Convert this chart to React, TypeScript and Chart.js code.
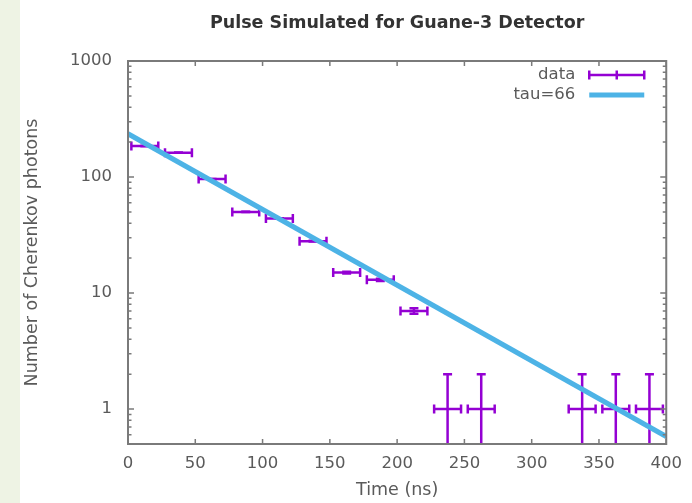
import React, { useEffect, useRef } from 'react';
import { Chart, registerables } from 'chart.js';

Chart.register(...registerables);

// ---- data ----
const timeNs = [12.5, 37.5, 62.5, 87.5, 112.5, 137.5, 162.5, 187.5, 212.5, 237.5, 262.5, 337.5, 362.5, 387.5];
const photons = [185, 162, 96, 50, 44, 28, 15, 13, 7, 1, 1, 1, 1, 1];
const timeErr = [10, 10, 10, 10, 10, 10, 10, 10, 10, 10, 10, 10, 10, 10];
const photonErr = [0.07, 0.08, 0.1, 0.14, 0.15, 0.19, 0.26, 0.28, 0.38, 1, 1, 1, 1, 1];

const fitTimes = [0, 400];
const fitValues = [236, 0.58];

const xTickValues = [0, 50, 100, 150, 200, 250, 300, 350, 400];
const yTickValues = [1, 10, 100, 1000];

const titleText = 'Pulse Simulated for Guane-3 Detector';
const xTitle = 'Time (ns)';
const yTitle = 'Number of Cherenkov photons';
const dataLabel = 'data';
const fitLabel = 'tau=66';

const PURPLE = '#9400d3';
const BLUE = '#4db3e6';
const FRAME = '#7a7a7a';
const TEXT = '#5a5a5a';
const FONT = '"DejaVu Sans", Verdana, sans-serif';

export default function App() {
  const ref = useRef<HTMLCanvasElement>(null);

  useEffect(() => {
    if (!ref.current) return;

    const errorBars = {
      id: 'errorBars',
      beforeDatasetsDraw(chart: any) {
        const { ctx, chartArea, scales } = chart;
        const x = scales.x, y = scales.y;
        ctx.save();
        ctx.beginPath();
        ctx.rect(chartArea.left, chartArea.top, chartArea.right - chartArea.left, chartArea.bottom - chartArea.top);
        ctx.clip();
        ctx.strokeStyle = PURPLE;
        ctx.lineWidth = 2.5;
        ctx.lineCap = 'butt';
        const cap = 4.5;
        const seg = (a: number, b: number, c: number, d: number) => {
          ctx.beginPath();
          ctx.moveTo(a, b);
          ctx.lineTo(c, d);
          ctx.stroke();
        };
        timeNs.forEach((t, i) => {
          const v = photons[i];
          const px = x.getPixelForValue(t);
          const py = y.getPixelForValue(v);
          const x0 = x.getPixelForValue(t - timeErr[i]);
          const x1 = x.getPixelForValue(t + timeErr[i]);
          const lo = v - photonErr[i];
          const y0 = lo > 0 ? y.getPixelForValue(lo) : chartArea.bottom + 10;
          const y1 = y.getPixelForValue(v + photonErr[i]);
          seg(x0, py, x1, py);
          seg(x0, py - cap, x0, py + cap);
          seg(x1, py - cap, x1, py + cap);
          seg(px, y0, px, y1);
          seg(px - cap, y0, px + cap, y0);
          seg(px - cap, y1, px + cap, y1);
        });
        ctx.restore();
      },
    };

    const frame = {
      id: 'frame',
      afterDraw(chart: any) {
        const { ctx, chartArea, scales } = chart;
        const x = scales.x, y = scales.y;
        const { left, right, top, bottom } = chartArea;
        ctx.save();
        // title, centred over the plot area
        ctx.font = `bold 17.5px ${FONT}`;
        ctx.fillStyle = '#333';
        ctx.textAlign = 'center';
        ctx.textBaseline = 'middle';
        ctx.fillText(titleText, (left + right) / 2, 23.5);

        ctx.strokeStyle = FRAME;
        ctx.lineWidth = 2;
        ctx.strokeRect(left, top, right - left, bottom - top);
        ctx.lineWidth = 1.5;
        // x ticks (inward, bottom and top)
        xTickValues.forEach((v) => {
          const px = x.getPixelForValue(v);
          ctx.beginPath();
          ctx.moveTo(px, bottom);
          ctx.lineTo(px, bottom - 5);
          ctx.moveTo(px, top);
          ctx.lineTo(px, top + 5);
          ctx.stroke();
        });
        // y ticks: majors at decades, minors 2..9
        const minV = y.min, maxV = y.max;
        for (let d = 0.1; d <= 1000; d *= 10) {
          for (let m = 1; m <= 9; m++) {
            const v = m * d;
            if (v < minV * 0.999 || v > maxV * 1.001) continue;
            const py = y.getPixelForValue(v);
            const len = m === 1 ? 6 : 3.5;
            ctx.beginPath();
            ctx.moveTo(left, py);
            ctx.lineTo(left + len, py);
            ctx.moveTo(right, py);
            ctx.lineTo(right - len, py);
            ctx.stroke();
          }
        }
        // legend
        const textRight = right - 91;
        const sx0 = right - 77, sx1 = right - 22;
        const row1 = top + 14, row2 = top + 34;
        ctx.font = `16.5px ${FONT}`;
        ctx.fillStyle = TEXT;
        ctx.textAlign = 'right';
        ctx.textBaseline = 'middle';
        ctx.fillText(dataLabel, textRight, row1);
        ctx.fillText(fitLabel, textRight, row2);
        ctx.strokeStyle = PURPLE;
        ctx.lineWidth = 2.5;
        const mid = (sx0 + sx1) / 2;
        ctx.beginPath();
        ctx.moveTo(sx0, row1); ctx.lineTo(sx1, row1);
        ctx.moveTo(sx0, row1 - 4.5); ctx.lineTo(sx0, row1 + 4.5);
        ctx.moveTo(sx1, row1 - 4.5); ctx.lineTo(sx1, row1 + 4.5);
        ctx.moveTo(mid, row1 - 4.5); ctx.lineTo(mid, row1 + 4.5);
        ctx.stroke();
        ctx.strokeStyle = BLUE;
        ctx.lineWidth = 5;
        ctx.beginPath();
        ctx.moveTo(sx0, row2); ctx.lineTo(sx1, row2);
        ctx.stroke();
        ctx.restore();
      },
    };

    const chart = new Chart(ref.current, {
      type: 'scatter',
      data: {
        datasets: [
          {
            label: dataLabel,
            data: timeNs.map((t, i) => ({ x: t, y: photons[i] })),
            pointRadius: 0,
            borderColor: PURPLE,
            backgroundColor: PURPLE,
          },
          {
            label: fitLabel,
            data: fitTimes.map((t, i) => ({ x: t, y: fitValues[i] })),
            showLine: true,
            borderColor: BLUE,
            backgroundColor: BLUE,
            borderWidth: 5,
            pointRadius: 0,
            tension: 0,
          },
        ],
      },
      options: {
        responsive: false,
        animation: false,
        devicePixelRatio: 1,
        layout: { padding: { left: 0, right: 23, top: 61, bottom: 0 } },
        plugins: {
          legend: { display: false },
          tooltip: { enabled: false },
          title: { display: false },
        },
        scales: {
          x: {
            type: 'linear',
            min: 0,
            max: 400,
            afterBuildTicks: (s: any) => {
              s.ticks = xTickValues.map((v) => ({ value: v }));
            },
            afterFit: (s: any) => {
              s.height = 59;
            },
            grid: { display: false, drawTicks: false },
            border: { display: false },
            ticks: {
              color: TEXT,
              font: { family: FONT, size: 16.5 },
              padding: 10,
              maxRotation: 0,
              autoSkip: false,
            },
            title: {
              display: true,
              text: xTitle,
              color: TEXT,
              font: { family: FONT, size: 17.5 },
              padding: { top: 0, bottom: 2 },
            },
          },
          y: {
            type: 'logarithmic',
            min: 0.5,
            max: 1000,
            afterBuildTicks: (s: any) => {
              s.ticks = yTickValues.map((v) => ({ value: v }));
            },
            afterFit: (s: any) => {
              s.width = 128;
            },
            grid: { display: false, drawTicks: false },
            border: { display: false },
            ticks: {
              color: TEXT,
              font: { family: FONT, size: 16.5 },
              padding: 16,
              autoSkip: false,
              callback: (v: any) => String(v),
            },
            title: {
              display: true,
              text: yTitle,
              color: TEXT,
              font: { family: FONT, size: 17.5 },
              padding: { top: 22, bottom: 0 },
            },
          },
        },
      },
      plugins: [errorBars, frame],
    } as any);

    return () => chart.destroy();
  }, []);

  return (
    <div
      style={{
        position: 'absolute',
        left: 0,
        top: 0,
        width: 692,
        height: 503,
        background: 'linear-gradient(to right, #eef3e4 0px, #eef3e4 20px, #ffffff 20px)',
      }}
    >
      <canvas ref={ref} width={692} height={503} style={{ display: 'block' }} />
    </div>
  );
}
